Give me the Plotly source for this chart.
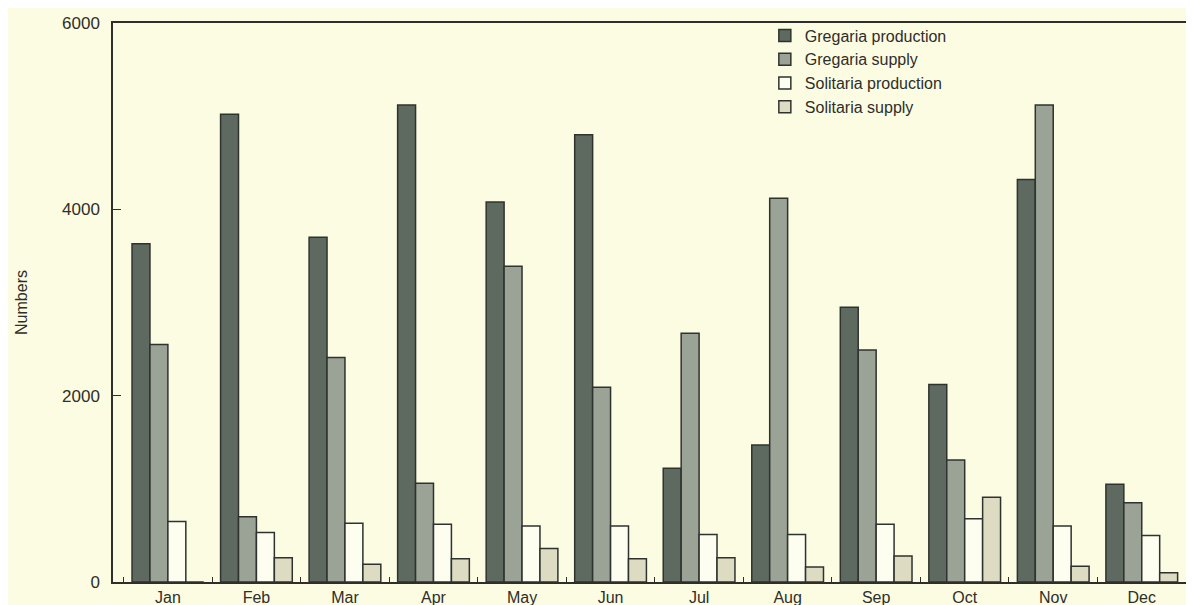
import plotly.graph_objects as go

months = ["Jan", "Feb", "Mar", "Apr", "May", "Jun", "Jul", "Aug", "Sep", "Oct", "Nov", "Dec"]

gregaria_production = [3630, 5020, 3700, 5120, 4080, 4800, 1220, 1470, 2950, 2120, 4320, 1050]
gregaria_supply = [2550, 700, 2410, 1060, 3390, 2090, 2670, 4120, 2490, 1310, 5120, 850]
solitaria_production = [650, 530, 630, 620, 600, 600, 510, 510, 620, 680, 600, 500]
solitaria_supply = [0, 260, 190, 250, 360, 250, 260, 160, 280, 910, 170, 100]

series = [
    ("Gregaria production", gregaria_production, "#5e6a60"),
    ("Gregaria supply", gregaria_supply, "#9ba396"),
    ("Solitaria production", solitaria_production, "#fdfdf0"),
    ("Solitaria supply", solitaria_supply, "#dddbc2"),
]

bg = "#fcfce2"
ink = "#2e2e2a"

fig = go.Figure()
for name, vals, col in series:
    fig.add_bar(name=name, x=months, y=vals,
                marker=dict(color=col, line=dict(color="#2f332f", width=1.5)))

# page body has an 8px margin, so the figure is sized to fit the window
fig.update_layout(
    width=1186, height=597,
    barmode="group", bargap=0.19, bargroupgap=0,
    paper_bgcolor=bg, plot_bgcolor=bg,
    margin=dict(l=105, r=0, t=15, b=23),
    font=dict(family="Liberation Sans, Arial", size=16, color=ink),
    showlegend=True,
    legend=dict(x=0.603, y=1.008, xanchor="left", yanchor="top",
                bgcolor="rgba(0,0,0,0)", font=dict(size=16),
                tracegroupgap=0, itemwidth=30),
)

fig.update_xaxes(
    range=[-0.62, 11.59], showgrid=False,
    showline=True, linecolor=ink, linewidth=1.5, mirror=True,
    ticks="inside", tickson="boundaries", ticklen=5, tickcolor=ink,
    tickfont=dict(size=16),
)
fig.update_yaxes(
    range=[0, 6000], tickvals=[0, 2000, 4000, 6000],
    showgrid=False, zeroline=False,
    showline=True, linecolor=ink, linewidth=1.5,
    ticks="inside", ticklen=8, tickcolor=ink,
    tickfont=dict(size=17), ticklabelstandoff=8,
    title=dict(text="Numbers", font=dict(size=16), standoff=30),
)

fig.write_html("out.html")
